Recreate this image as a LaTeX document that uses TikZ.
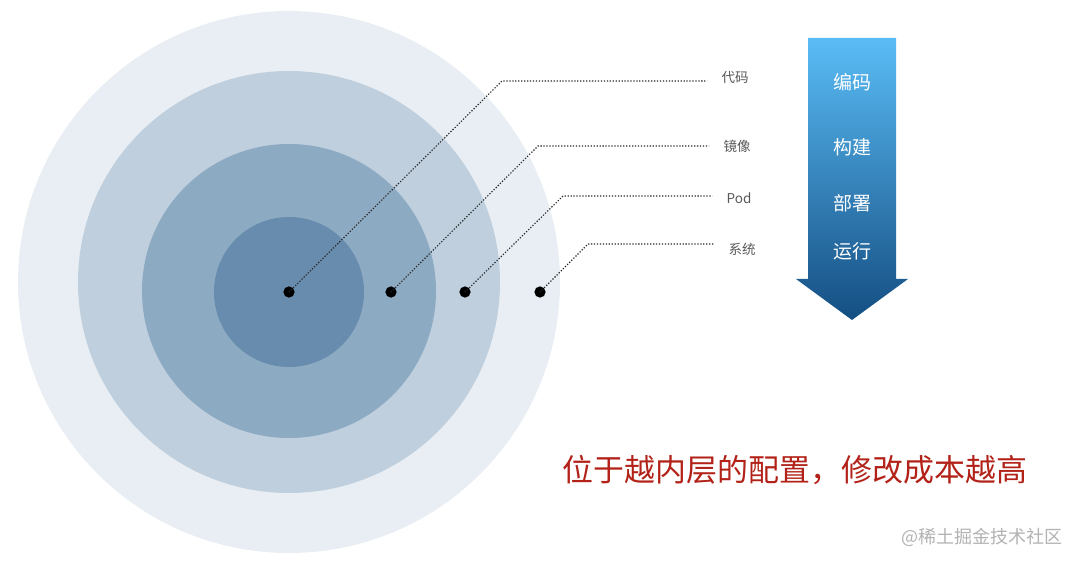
\documentclass[tikz,border=0pt]{standalone}
\usepackage{fontspec}
\setmainfont{Noto Sans CJK SC}
\usepackage{xcolor}
\usepackage{tikz}
\usetikzlibrary{positioning,calc}

\definecolor{ringA}{RGB}{232,238,243}
\definecolor{ringB}{RGB}{191,207,222}
\definecolor{ringC}{RGB}{141,170,195}
\definecolor{ringD}{RGB}{104,140,173}
\definecolor{flowTop}{RGB}{90,188,246}
\definecolor{flowBot}{RGB}{20,78,130}
\definecolor{noteRed}{RGB}{178,34,24}
\definecolor{lblGray}{RGB}{88,88,88}

\begin{document}
\begin{tikzpicture}[
  x=0.025cm, y=-0.025cm,
  pin/.style={circle, fill=black, inner sep=0pt, minimum size=8pt},
  layer/.style={font=\fontsize{9.6}{11}\selectfont, text=lblGray, inner sep=1pt},
  stage/.style={font=\fontsize{13.5}{15}\selectfont, text=white, inner sep=1pt},
  lead/.style={line width=0.8pt, black!85, dash pattern=on 0.9pt off 1.2pt}
]
\useasboundingbox (0,0) rectangle (1080,564);

% rings, outer to inner
\fill[ringA] (289,282) circle (271);
\fill[ringB] (289,282) circle (211);
\fill[ringC] (289,291) circle (147);
\fill[ringD] (289,292) circle (75);

% pins on the rings
\node[pin] (p1) at (289,292) {};
\node[pin] (p2) at (391,292) {};
\node[pin] (p3) at (465,292) {};
\node[pin] (p4) at (540,292) {};

% layer labels
\node[layer] (l1) at (735,77)  {代码};
\node[layer] (l2) at (737,146) {镜像};
\node[layer] (l3) at (739,198) {Pod};
\node[layer] (l4) at (742,249) {系统};

\coordinate (k1) at (502,81);
\coordinate (k2) at (538,146);
\coordinate (k3) at (563,196);
\coordinate (k4) at (588,244);

% leader lines
\draw[lead] (p1.center) -- (k1) -- ([xshift=-9pt]k1 -| l1.west);
\draw[lead] (p2.center) -- (k2) -- ([xshift=-9pt]k2 -| l2.west);
\draw[lead] (p3.center) -- (k3) -- ([xshift=-9pt]k3 -| l3.west);
\draw[lead] (p4.center) -- (k4) -- ([xshift=-9pt]k4 -| l4.west);

% flow arrow
\shade[top color=flowTop, bottom color=flowBot]
  (808,38) -- (896,38) -- (896,279) -- (908,279) -- (852,320)
  -- (796,279) -- (808,279) -- cycle;
\node[stage] (s1) at (852,82)  {编码};
\node[stage] (s2) at (852,147) {构建};
\node[stage] (s3) at (852,203) {部署};
\node[stage] (s4) at (852,251) {运行};

% note
\node[text=noteRed, font=\fontsize{22}{26}\selectfont, inner sep=0pt] (note) at (795,470)
  {位于越内层的配置，修改成本越高};

\node[text=black!30, font=\fontsize{12.8}{15}\selectfont, inner sep=0pt] (mark) at (982,537)
  {@稀土掘金技术社区};

\end{tikzpicture}
\end{document}
